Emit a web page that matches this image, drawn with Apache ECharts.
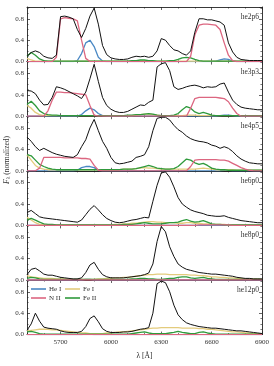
<!DOCTYPE html>
<html><head><meta charset="utf-8">
<script src="https://cdn.jsdelivr.net/npm/echarts@6/dist/echarts.min.js"></script>
<style>html,body{margin:0;padding:0;background:#fff}#c{width:274px;height:366px}</style>
</head><body><div id="c"></div>
<script>
const wavelength = [5500,5525,5550,5575,5600,5625,5650,5675,5700,5725,5750,5775,5800,5825,5850,5875,5900,5925,5950,5975,6000,6025,6050,6075,6100,6125,6150,6175,6200,6225,6250,6275,6300,6325,6350,6375,6400,6425,6450,6475,6500,6525,6550,6575,6600,6625,6650,6675,6700,6725,6750,6775,6800,6825,6850,6875,6900];
const panelNames = ['he2p6','he3p3','he4p5','he6p0','he8p0','he12p0'];
const xTickLabels = [5700,6000,6300,6600,6900];
const xMinorTicks = [5500,5600,5800,5900,6100,6200,6400,6500,6700,6800];
const yTickLabels = [0,0.4,0.8];
const componentNames = ['He I','N II','Fe I','Fe II'];

// total (black) per panel
const total_he2p6 = [0.10,0.17,0.20,0.17, 0.10,0.07,0.06,0.12, 0.84,0.85,0.83,0.80, 0.60,0.45,0.62,0.85, 1.00,0.70,0.30,0.13, 0.07,0.05,0.04,0.04, 0.05,0.08,0.10,0.09, 0.10,0.08,0.10,0.20, 0.43,0.40,0.30,0.22, 0.20,0.15,0.12,0.20, 0.55,0.80,0.80,0.78, 0.78,0.76,0.74,0.68, 0.35,0.18,0.08,0.04, 0.03,0.02,0.02,0.02, 0.02];
const total_he3p3 = [0.48,0.47,0.42,0.30, 0.21,0.22,0.35,0.55, 0.53,0.50,0.46,0.42, 0.38,0.33,0.45,0.70, 0.97,0.65,0.35,0.20, 0.13,0.09,0.07,0.07, 0.09,0.13,0.17,0.21, 0.20,0.26,0.30,0.92, 0.98,1.00,0.85,0.55, 0.50,0.52,0.55,0.57, 0.58,0.56,0.53,0.55, 0.54,0.55,0.60,0.62, 0.45,0.30,0.22,0.17, 0.15,0.14,0.13,0.12, 0.12];
const total_he4p5 = [0.63,0.55,0.45,0.38, 0.42,0.38,0.34,0.31, 0.29,0.27,0.26,0.25, 0.30,0.45,0.58,0.80, 0.96,0.75,0.55,0.42, 0.25,0.15,0.13,0.14, 0.16,0.18,0.25,0.27, 0.30,0.45,0.75,0.98, 1.00,1.00,0.95,0.85, 0.77,0.72,0.65,0.60, 0.57,0.55,0.54,0.52, 0.48,0.46,0.42,0.45, 0.42,0.36,0.28,0.22, 0.18,0.15,0.14,0.13, 0.13];
const total_he6p0 = [0.24,0.28,0.22,0.16, 0.14,0.13,0.12,0.11, 0.10,0.09,0.08,0.07, 0.06,0.10,0.20,0.30, 0.37,0.29,0.20,0.13, 0.09,0.06,0.05,0.06, 0.08,0.10,0.11,0.13, 0.15,0.14,0.45,0.75, 0.98,1.00,0.90,0.72, 0.52,0.40,0.34,0.29, 0.26,0.24,0.22,0.19, 0.18,0.17,0.17,0.18, 0.15,0.13,0.11,0.09, 0.08,0.07,0.06,0.05, 0.05];
const total_he8p0 = [0.10,0.20,0.22,0.17, 0.11,0.09,0.09,0.07, 0.05,0.04,0.03,0.02, 0.02,0.04,0.14,0.28, 0.33,0.20,0.10,0.06, 0.04,0.04,0.04,0.04, 0.05,0.06,0.07,0.08, 0.10,0.13,0.30,0.72, 1.00,0.90,0.62,0.44, 0.30,0.24,0.20,0.18, 0.16,0.14,0.13,0.12, 0.11,0.11,0.10,0.09, 0.08,0.07,0.05,0.04, 0.03,0.03,0.02,0.02, 0.02];
const total_he12p0 = [0.08,0.20,0.40,0.25, 0.14,0.12,0.11,0.10, 0.07,0.05,0.04,0.04, 0.04,0.06,0.15,0.30, 0.35,0.24,0.11,0.06, 0.04,0.04,0.04,0.05, 0.05,0.06,0.08,0.10, 0.11,0.13,0.40,0.95, 1.00,0.97,0.80,0.55, 0.37,0.28,0.22,0.19, 0.17,0.15,0.14,0.13, 0.12,0.12,0.11,0.10, 0.09,0.08,0.07,0.07, 0.06,0.05,0.04,0.03, 0.02];

// He I
const heI_he2p6 = [0,0,0,0, 0,0,0,0, 0,0,0,0, 0.02,0.15,0.35,0.40, 0.28,0.08,0.01,0, 0,0,0,0, 0,0,0,0, 0,0,0,0, 0,0,0,0, 0,0,0,0, 0,0,0,0, 0,0.01,0.03,0.05, 0.04,0.01,0,0, 0,0,0,0, 0];
const heI_he3p3 = [0,0,0,0, 0,0,0,0, 0,0,0,0, 0,0.03,0.10,0.15, 0.12,0.05,0.01,0, 0,0,0,0, 0,0,0,0, 0,0,0,0, 0,0,0,0, 0,0,0,0, 0,0,0,0, 0,0,0.01,0.02, 0.02,0.01,0,0, 0,0,0,0, 0];
const heI_he4p5 = [0,0,0,0, 0,0,0,0, 0,0,0,0, 0.01,0.06,0.08,0.08, 0.06,0.01,0,0, 0,0,0,0, 0,0,0,0, 0,0,0,0, 0,0,0,0, 0,0,0,0, 0,0,0,0, 0,0,0,0.01, 0.01,0,0,0, 0,0,0,0, 0];
const heI_he6p0 = [0,0,0,0, 0,0,0,0, 0,0,0,0, 0,0.01,0.01,0.01, 0.01,0,0,0, 0,0,0,0, 0,0,0,0, 0,0,0,0, 0,0,0,0, 0,0,0,0, 0,0,0,0, 0,0,0,0, 0,0,0,0, 0,0,0,0, 0];
const heI_he8p0 = [0,0,0,0, 0,0,0,0, 0,0,0,0, 0,0,0.01,0.01, 0,0,0,0, 0,0,0,0, 0,0,0,0, 0,0,0,0, 0,0,0,0, 0,0,0,0, 0,0,0,0, 0,0,0,0, 0,0,0,0, 0,0,0,0, 0];
const heI_he12p0 = [0,0,0,0, 0,0,0,0, 0,0,0,0, 0,0,0.01,0.01, 0,0,0,0, 0,0,0,0, 0,0,0,0, 0,0,0,0, 0,0,0,0, 0,0,0,0, 0,0,0,0, 0,0,0,0, 0,0,0,0, 0,0,0,0, 0];

// N II
const nII_he2p6 = [0,0,0,0, 0,0,0,0.08, 0.80,0.82,0.81,0.80, 0.76,0.40,0.06,0, 0,0,0,0, 0,0,0,0, 0,0,0,0, 0,0,0,0, 0,0,0,0, 0,0,0,0.10, 0.50,0.68,0.70,0.70, 0.69,0.68,0.60,0.35, 0.12,0.02,0,0, 0,0,0,0, 0];
const nII_he3p3 = [0,0,0,0, 0,0.10,0.30,0.45, 0.45,0.44,0.44,0.43, 0.42,0.41,0.40,0.20, 0.02,0,0,0, 0,0,0,0, 0,0,0,0, 0,0,0,0, 0,0,0,0, 0,0,0,0.15, 0.33,0.35,0.35,0.35, 0.35,0.35,0.34,0.33, 0.27,0.15,0.05,0, 0,0,0,0, 0];
const nII_he4p5 = [0,0,0,0.05, 0.25,0.25,0.25,0.25, 0.25,0.24,0.24,0.24, 0.24,0.23,0.23,0.22, 0.10,0.01,0,0, 0,0,0,0, 0,0,0,0, 0,0,0,0, 0,0,0,0, 0,0,0,0.08, 0.20,0.21,0.21,0.21, 0.21,0.21,0.20,0.20, 0.18,0.14,0.10,0.06, 0.03,0.01,0,0, 0];
const nII_he6p0 = [0,0,0,0, 0,0,0,0, 0,0,0,0, 0,0,0,0, 0,0,0,0, 0,0,0,0, 0,0,0,0, 0,0,0,0, 0,0,0,0, 0,0,0,0, 0,0.01,0.01,0.01, 0.01,0.01,0.01,0.01, 0.01,0,0,0, 0,0,0,0, 0];
const nII_he8p0 = [0,0,0,0, 0,0,0,0, 0,0,0,0, 0,0,0,0, 0,0,0,0, 0,0,0,0, 0,0,0,0, 0,0,0,0, 0,0,0,0, 0,0,0,0, 0,0,0,0, 0,0,0,0, 0,0,0,0, 0,0,0,0, 0];
const nII_he12p0 = [0,0,0,0, 0,0,0,0, 0,0,0,0, 0,0,0,0, 0,0,0,0, 0,0,0,0, 0,0,0,0, 0,0,0,0, 0,0,0,0, 0,0,0,0, 0,0,0,0, 0,0,0,0, 0,0,0,0, 0,0,0,0, 0];

// Fe I
const feI_he2p6 = [0.06,0.03,0.01,0.01, 0.01,0.01,0.01,0.01, 0.01,0.01,0.01,0.01, 0.01,0.01,0.01,0.01, 0.01,0.01,0.01,0.01, 0.01,0.01,0.01,0.01, 0.01,0.01,0.02,0.02, 0.02,0.02,0.01,0.01, 0.01,0.01,0.01,0.01, 0.01,0.01,0.01,0.01, 0.01,0.01,0.01,0.01, 0.01,0.01,0.01,0.01, 0.01,0.01,0.01,0.01, 0.01,0.01,0.01,0.01, 0.01];
const feI_he3p3 = [0.20,0.15,0.07,0.03, 0.01,0.01,0.01,0.01, 0.01,0.01,0.01,0.01, 0.01,0.01,0.01,0.01, 0.01,0.01,0.01,0.01, 0.01,0.01,0.01,0.01, 0.01,0.01,0.02,0.03, 0.04,0.04,0.03,0.02, 0.01,0.01,0.01,0.01, 0.01,0.01,0.02,0.02, 0.02,0.01,0.01,0.01, 0.01,0.01,0.01,0.01, 0.01,0.01,0.01,0.01, 0.01,0.01,0.01,0.01, 0.01];
const feI_he4p5 = [0.30,0.20,0.10,0.05, 0.03,0.02,0.02,0.02, 0.02,0.02,0.02,0.02, 0.02,0.02,0.02,0.02, 0.02,0.02,0.02,0.02, 0.02,0.02,0.02,0.03, 0.03,0.03,0.04,0.05, 0.06,0.05,0.05,0.04, 0.03,0.03,0.03,0.03, 0.03,0.03,0.03,0.03, 0.03,0.04,0.05,0.04, 0.03,0.02,0.02,0.02, 0.02,0.02,0.01,0.01, 0.01,0.01,0.01,0.01, 0.01];
const feI_he6p0 = [0.15,0.10,0.05,0.02, 0.01,0.01,0.01,0.01, 0.01,0.01,0.01,0.01, 0.01,0.01,0.01,0.01, 0.01,0.01,0.01,0.01, 0.01,0.02,0.02,0.03, 0.03,0.04,0.04,0.05, 0.06,0.07,0.07,0.06, 0.06,0.05,0.05,0.05, 0.04,0.04,0.05,0.05, 0.04,0.04,0.03,0.03, 0.02,0.02,0.02,0.02, 0.01,0.01,0.01,0.01, 0.01,0.01,0.01,0.01, 0.01];
const feI_he8p0 = [0.08,0.06,0.05,0.04, 0.03,0.03,0.03,0.02, 0.02,0.02,0.01,0.01, 0.01,0.01,0.01,0.01, 0.01,0.02,0.02,0.03, 0.03,0.04,0.04,0.05, 0.05,0.06,0.07,0.08, 0.09,0.10,0.10,0.11, 0.11,0.11,0.10,0.10, 0.10,0.10,0.10,0.09, 0.09,0.08,0.08,0.07, 0.06,0.06,0.05,0.05, 0.04,0.04,0.03,0.03, 0.02,0.02,0.02,0.02, 0.01];
const feI_he12p0 = [0.07,0.08,0.09,0.10, 0.10,0.10,0.09,0.09, 0.08,0.07,0.06,0.05, 0.04,0.03,0.03,0.02, 0.02,0.02,0.02,0.03, 0.03,0.04,0.05,0.05, 0.06,0.07,0.08,0.09, 0.10,0.11,0.12,0.12, 0.13,0.13,0.13,0.13, 0.13,0.12,0.12,0.12, 0.12,0.11,0.11,0.10, 0.10,0.09,0.08,0.07, 0.06,0.05,0.05,0.04, 0.03,0.03,0.02,0.02, 0.02];

// Fe II
const feII_he2p6 = [0.10,0.17,0.12,0.05, 0.02,0.01,0.01,0.01, 0.01,0.01,0.01,0.01, 0.01,0.01,0.01,0.01, 0.01,0.01,0.01,0.01, 0.01,0.01,0.01,0.01, 0.01,0.02,0.02,0.03, 0.03,0.02,0.02,0.01, 0.01,0.01,0.02,0.02, 0.04,0.07,0.08,0.07, 0.04,0.02,0.01,0.01, 0.01,0.01,0.01,0.01, 0.01,0.01,0.01,0.01, 0.01,0.01,0.01,0.01, 0.01];
const feII_he3p3 = [0.22,0.28,0.20,0.10, 0.05,0.03,0.02,0.02, 0.01,0.01,0.01,0.01, 0.01,0.01,0.01,0.01, 0.01,0.01,0.01,0.01, 0.01,0.01,0.01,0.01, 0.02,0.02,0.03,0.03, 0.04,0.05,0.04,0.02, 0.01,0.01,0.01,0.02, 0.05,0.12,0.18,0.15, 0.08,0.05,0.07,0.05, 0.02,0.01,0.01,0.01, 0.01,0.01,0.01,0.01, 0.01,0.01,0.01,0.01, 0.01];
const feII_he4p5 = [0.30,0.28,0.20,0.12, 0.08,0.05,0.03,0.02, 0.02,0.02,0.02,0.02, 0.02,0.02,0.02,0.02, 0.02,0.02,0.02,0.02, 0.02,0.02,0.02,0.03, 0.03,0.03,0.04,0.06, 0.08,0.10,0.08,0.05, 0.04,0.03,0.03,0.04, 0.08,0.15,0.22,0.20, 0.15,0.12,0.14,0.10, 0.05,0.03,0.02,0.02, 0.01,0.01,0.01,0.01, 0.01,0.01,0.01,0.01, 0.01];
const feII_he6p0 = [0.10,0.13,0.10,0.06, 0.03,0.02,0.02,0.01, 0.01,0.01,0.01,0.01, 0.01,0.01,0.01,0.01, 0.01,0.01,0.01,0.01, 0.01,0.01,0.01,0.02, 0.02,0.02,0.03,0.04, 0.05,0.04,0.03,0.03, 0.03,0.04,0.05,0.05, 0.06,0.09,0.11,0.08, 0.06,0.07,0.09,0.06, 0.03,0.02,0.02,0.01, 0.01,0.01,0.01,0.01, 0.01,0.01,0.01,0.01, 0.01];
const feII_he8p0 = [0.03,0.05,0.04,0.02, 0.01,0.01,0.01,0.01, 0.01,0.01,0.01,0.01, 0.01,0.01,0.01,0.01, 0.01,0.01,0.01,0.01, 0.01,0.01,0.01,0.01, 0.01,0.02,0.02,0.03, 0.03,0.02,0.02,0.01, 0.01,0.02,0.03,0.03, 0.05,0.06,0.06,0.04, 0.03,0.04,0.05,0.03, 0.02,0.01,0.01,0.01, 0.01,0.01,0.01,0.01, 0.01,0.01,0.01,0.01, 0.01];
const feII_he12p0 = [0.05,0.06,0.04,0.02, 0.01,0.01,0.01,0.01, 0.01,0.01,0.01,0.01, 0.01,0.01,0.01,0.01, 0.01,0.01,0.01,0.01, 0.01,0.01,0.01,0.01, 0.01,0.02,0.03,0.04, 0.05,0.03,0.02,0.02, 0.02,0.02,0.03,0.04, 0.06,0.04,0.03,0.02, 0.02,0.04,0.05,0.03, 0.02,0.01,0.01,0.01, 0.01,0.01,0.01,0.01, 0.01,0.01,0.01,0.01, 0.01];

const totals = [total_he2p6,total_he3p3,total_he4p5,total_he6p0,total_he8p0,total_he12p0];
const heI = [heI_he2p6,heI_he3p3,heI_he4p5,heI_he6p0,heI_he8p0,heI_he12p0];
const nII = [nII_he2p6,nII_he3p3,nII_he4p5,nII_he6p0,nII_he8p0,nII_he12p0];
const feI = [feI_he2p6,feI_he3p3,feI_he4p5,feI_he6p0,feI_he8p0,feI_he12p0];
const feII = [feII_he2p6,feII_he3p3,feII_he4p5,feII_he6p0,feII_he8p0,feII_he12p0];

const COL = {'He I':'#4a88c4','N II':'#dc6680','Fe I':'#e3cb7c','Fe II':'#2f9a3c', total:'#111111'};
const FONT = 'Liberation Serif';
const L = 27, W = 235, T0 = 7, H = 54.6;
const N = panelNames.length;

const grids = [], xAxes = [], yAxes = [], series = [], graphics = [];
const lineCol = '#222';
for (let k = 0; k < N; k++) {
  const top = T0 + H * k;
  grids.push({left: L, width: W, top: top, height: H});
  const baseX = {type:'value', gridIndex:k, min:5500, max:6900, splitLine:{show:false}};
  xAxes.push(Object.assign({}, baseX, {
    position:'bottom',
    axisLine:{show:true, onZero:false, lineStyle:{color:lineCol, width:0.9}},
    axisTick:{show:true, inside:true, length:3, customValues:xTickLabels, lineStyle:{color:lineCol, width:0.7}},
    axisLabel:{show:k===N-1, customValues:xTickLabels, formatter:v=>String(v), fontFamily:FONT, fontSize:7, color:'#333', margin:4},
    name: k===N-1 ? 'λ [Å]' : '', nameLocation:'middle', nameGap:17,
    nameTextStyle:{fontFamily:FONT, fontSize:7.5, color:'#222'}
  }));
  xAxes.push(Object.assign({}, baseX, {
    position:'bottom', axisLine:{show:false, onZero:false},
    axisTick:{show:true, inside:true, length:1.6, customValues:xMinorTicks, lineStyle:{color:lineCol, width:0.6}},
    axisLabel:{show:false}
  }));
  xAxes.push(Object.assign({}, baseX, {
    position:'top',
    axisLine:{show:true, onZero:false, lineStyle:{color:lineCol, width:0.9}},
    axisTick:{show:true, inside:true, length:3, customValues:xTickLabels, lineStyle:{color:lineCol, width:0.7}},
    axisLabel:{show:false}
  }));
  xAxes.push(Object.assign({}, baseX, {
    position:'top', axisLine:{show:false, onZero:false},
    axisTick:{show:true, inside:true, length:1.6, customValues:xMinorTicks, lineStyle:{color:lineCol, width:0.6}},
    axisLabel:{show:false}
  }));
  const baseY = {type:'value', gridIndex:k, min:0, max:1.02, interval:0.4, splitLine:{show:false}};
  yAxes.push(Object.assign({}, baseY, {
    position:'left',
    axisLine:{show:true, onZero:false, lineStyle:{color:lineCol, width:0.9}},
    axisTick:{show:true, inside:true, length:3, lineStyle:{color:lineCol, width:0.7}},
    minorTick:{show:true, splitNumber:4, length:1.6, lineStyle:{color:lineCol, width:0.6}},
    axisLabel:{show:true, customValues:yTickLabels, formatter:v=>Number(v).toFixed(1), fontFamily:FONT, fontSize:7, color:'#333', margin:3}
  }));
  yAxes.push(Object.assign({}, baseY, {
    position:'right',
    axisLine:{show:true, onZero:false, lineStyle:{color:lineCol, width:0.9}},
    axisTick:{show:true, inside:true, length:3, lineStyle:{color:lineCol, width:0.7}},
    minorTick:{show:true, splitNumber:4, length:1.6, lineStyle:{color:lineCol, width:0.6}},
    axisLabel:{show:false}
  }));
  const comps = [['He I', heI[k]], ['Fe I', feI[k]], ['Fe II', feII[k]], ['N II', nII[k]]];
  comps.forEach(([nm, arr], j) => {
    series.push({
      type:'line', name:nm, xAxisIndex:4*k, yAxisIndex:2*k, symbol:'none', silent:true,
      lineStyle:{color:COL[nm], width:1.3}, itemStyle:{color:COL[nm]}, z:2+j,
      data: wavelength.map((w,i)=>[w, arr[i]])
    });
  });
  series.push({
    type:'line', name:'total', xAxisIndex:4*k, yAxisIndex:2*k, symbol:'none', silent:true,
    lineStyle:{color:COL.total, width:1}, z:10,
    data: wavelength.map((w,i)=>[w, totals[k][i]])
  });
  graphics.push({type:'text', x:259, y:top+10, style:{text:panelNames[k], fontFamily:FONT, fontSize:7.5, fill:'#333', align:'right', verticalAlign:'middle'}, z:100});
}
graphics.push({
  type:'text', x:7, y:160, rotation:Math.PI/2,
  style:{text:'{f|F}{s|λ} (normalized)', align:'center', verticalAlign:'middle', fill:'#333', fontFamily:FONT, fontSize:7.5,
    rich:{f:{fontFamily:FONT, fontStyle:'italic', fontSize:8, fill:'#333'}, s:{fontFamily:FONT, fontSize:5.5, fill:'#333', padding:[4,0,0,0]}}}
});

const legendPos = [['He I',31,285.5],['Fe I',65,285.5],['N II',31,294.5],['Fe II',65,294.5]];
const legends = legendPos.map(([nm,x,y]) => ({
  data:[nm], left:x, top:y, padding:0, icon:'rect', itemWidth:15, itemHeight:1.6, itemGap:0,
  textStyle:{fontFamily:FONT, fontSize:7, color:'#333', padding:[0,0,0,-2]}, selectedMode:false
}));

const chart = echarts.init(document.getElementById('c'), null, {renderer:'canvas'});
chart.setOption({
  animation:false, backgroundColor:'#fff',
  grid:grids, xAxis:xAxes, yAxis:yAxes, series:series, legend:legends, graphic:graphics
});
</script></body></html>
